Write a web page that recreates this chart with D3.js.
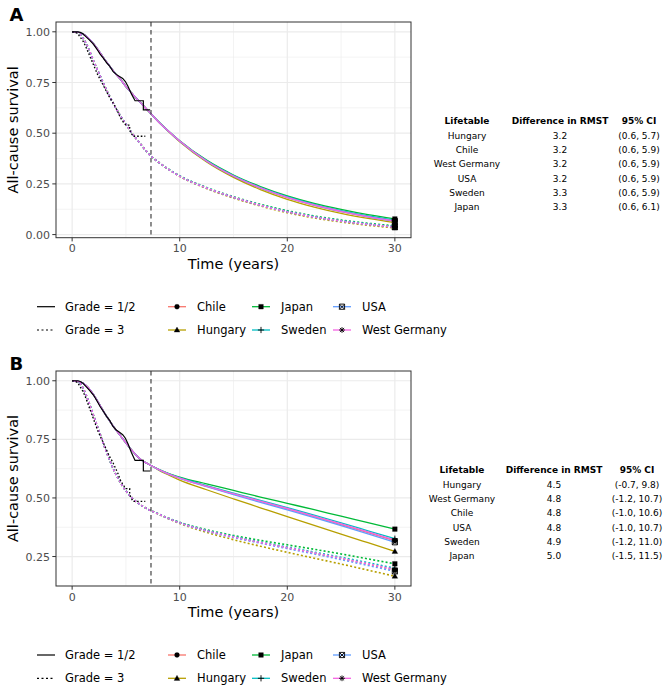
<!DOCTYPE html>
<html>
<head>
<meta charset="utf-8">
<script src="https://cdn.jsdelivr.net/npm/d3@7"></script>
<style>
  body { margin: 0; background: #fff; }
  text { font-family: "DejaVu Sans", sans-serif; }
</style>
</head>
<body>
<div id="chart"></div>
<script>
// ---- data ----
let countries = ["Chile", "Hungary", "Japan", "Sweden", "USA", "West Germany"];
let colors = ["#F8766D", "#B79F00", "#00BA38", "#00BFC4", "#619CFF", "#F564E3"];
let shapes = ["circle", "triangle", "square", "plus", "boxx", "asterisk"];

// Kaplan-Meier (observed) curves, same cohort in both panels
let kmTime12 = [0, 0.5, 0.75, 1.0, 1.3, 1.6, 2.0, 2.3, 2.6, 2.9, 3.2, 3.5, 3.8, 4.1, 4.4, 4.7, 4.95, 5.2, 5.5, 5.7, 5.85, 6.62, 6.62, 7.25];
let kmSurv12 = [1, 1, 0.997, 0.99, 0.975, 0.96, 0.938, 0.915, 0.89, 0.87, 0.848, 0.83, 0.805, 0.79, 0.78, 0.77, 0.755, 0.73, 0.695, 0.675, 0.66, 0.66, 0.615, 0.615];
let kmTime3 = [0, 0.4, 0.6, 0.8, 1.0, 1.2, 1.4, 1.6, 1.8, 2.0, 2.2, 2.4, 2.6, 2.8, 3.0, 3.25, 3.5, 3.75, 4.0, 4.25, 4.5, 4.75, 5.0, 5.35, 5.35, 5.5, 5.65, 6.8];
let kmSurv3 = [1, 0.995, 0.985, 0.97, 0.955, 0.935, 0.91, 0.885, 0.86, 0.835, 0.81, 0.785, 0.765, 0.745, 0.725, 0.70, 0.675, 0.655, 0.63, 0.605, 0.575, 0.555, 0.54, 0.54, 0.515, 0.50, 0.485, 0.485];

// extrapolated curves: shared early part, then one tail per lifetable
let earlyTimes = [0, 0.5, 1, 1.5, 2, 2.5, 3, 3.5, 4, 4.5, 5, 5.5, 6, 6.5, 7, 7.5];
let tailTimes = [8, 9, 10, 12.5, 15, 17.5, 20, 22.5, 25, 27.5, 30];

let earlyA12 = [1, 0.998, 0.99, 0.97, 0.94, 0.905, 0.865, 0.83, 0.795, 0.765, 0.73, 0.70, 0.67, 0.643, 0.614, 0.586];
let earlyA3 = [1, 0.997, 0.97, 0.92, 0.855, 0.795, 0.735, 0.68, 0.63, 0.585, 0.545, 0.505, 0.47, 0.437, 0.405, 0.379];
let tailA12 = [
  [0.558, 0.507, 0.460, 0.362, 0.287, 0.229, 0.182, 0.144, 0.113, 0.087, 0.065],
  [0.557, 0.506, 0.458, 0.358, 0.282, 0.222, 0.174, 0.136, 0.105, 0.080, 0.059],
  [0.559, 0.509, 0.463, 0.367, 0.294, 0.237, 0.191, 0.154, 0.124, 0.098, 0.077],
  [0.558, 0.508, 0.462, 0.365, 0.291, 0.233, 0.187, 0.149, 0.118, 0.092, 0.071],
  [0.558, 0.507, 0.460, 0.362, 0.288, 0.230, 0.183, 0.145, 0.114, 0.088, 0.066],
  [0.558, 0.508, 0.461, 0.363, 0.289, 0.231, 0.184, 0.146, 0.115, 0.089, 0.067]
];
let tailA3 = [
  [0.358, 0.320, 0.288, 0.229, 0.183, 0.144, 0.112, 0.086, 0.066, 0.049, 0.036],
  [0.358, 0.320, 0.287, 0.227, 0.180, 0.141, 0.108, 0.082, 0.062, 0.046, 0.033],
  [0.358, 0.321, 0.290, 0.232, 0.187, 0.149, 0.118, 0.092, 0.072, 0.056, 0.043],
  [0.358, 0.321, 0.289, 0.231, 0.185, 0.147, 0.115, 0.089, 0.069, 0.053, 0.040],
  [0.358, 0.320, 0.288, 0.229, 0.183, 0.144, 0.112, 0.086, 0.066, 0.050, 0.037],
  [0.358, 0.320, 0.288, 0.230, 0.184, 0.145, 0.113, 0.087, 0.067, 0.051, 0.038]
];

let earlyB12 = [1, 0.998, 0.99, 0.97, 0.94, 0.903, 0.863, 0.828, 0.795, 0.765, 0.735, 0.706, 0.68, 0.66, 0.647, 0.634];
let earlyB3 = [1, 0.997, 0.97, 0.915, 0.85, 0.785, 0.72, 0.66, 0.607, 0.565, 0.53, 0.503, 0.482, 0.466, 0.453, 0.442];
let tailB12 = [
  [0.622, 0.602, 0.585, 0.550, 0.517, 0.485, 0.453, 0.420, 0.386, 0.352, 0.317],
  [0.620, 0.597, 0.576, 0.535, 0.496, 0.458, 0.420, 0.383, 0.346, 0.309, 0.272],
  [0.623, 0.604, 0.589, 0.560, 0.532, 0.504, 0.477, 0.450, 0.422, 0.395, 0.367],
  [0.622, 0.603, 0.587, 0.553, 0.521, 0.490, 0.459, 0.427, 0.394, 0.360, 0.326],
  [0.622, 0.601, 0.584, 0.548, 0.514, 0.481, 0.449, 0.416, 0.382, 0.347, 0.311],
  [0.622, 0.602, 0.585, 0.550, 0.518, 0.486, 0.455, 0.422, 0.389, 0.355, 0.320]
];
let tailB3 = [
  [0.432, 0.412, 0.394, 0.360, 0.333, 0.309, 0.287, 0.264, 0.241, 0.217, 0.192],
  [0.431, 0.410, 0.391, 0.353, 0.322, 0.294, 0.268, 0.243, 0.218, 0.192, 0.166],
  [0.433, 0.413, 0.396, 0.364, 0.340, 0.319, 0.300, 0.281, 0.261, 0.240, 0.219],
  [0.432, 0.412, 0.395, 0.362, 0.336, 0.312, 0.291, 0.269, 0.247, 0.224, 0.200],
  [0.432, 0.411, 0.393, 0.358, 0.331, 0.307, 0.284, 0.261, 0.237, 0.212, 0.187],
  [0.432, 0.412, 0.394, 0.360, 0.334, 0.310, 0.288, 0.266, 0.243, 0.219, 0.195]
];

let cutoff = 7.33;
let xTicks = [0, 10, 20, 30];
let yTicksA = [0, 0.25, 0.5, 0.75, 1];
let yTicksB = [0.25, 0.5, 0.75, 1];

let tableHead = ["Lifetable", "Difference in RMST", "95% CI"];
let tabA_life = ["Hungary", "Chile", "West Germany", "USA", "Sweden", "Japan"];
let tabA_diff = ["3.2", "3.2", "3.2", "3.2", "3.3", "3.3"];
let tabA_ci = ["(0.6, 5.7)", "(0.6, 5.9)", "(0.6, 5.9)", "(0.6, 5.9)", "(0.6, 5.9)", "(0.6, 6.1)"];
let tabB_life = ["Hungary", "West Germany", "Chile", "USA", "Sweden", "Japan"];
let tabB_diff = ["4.5", "4.8", "4.8", "4.8", "4.9", "5.0"];
let tabB_ci = ["(-0.7, 9.8)", "(-1.2, 10.7)", "(-1.0, 10.6)", "(-1.0, 10.7)", "(-1.2, 11.0)", "(-1.5, 11.5)"];

let gradeLabels = ["Grade = 1/2", "Grade = 3"];

// ---- drawing ----
let svg = d3.select("#chart").append("svg").attr("width", 668).attr("height", 691);

let left = 56, right = 411;
let panels = [
  { tag: "A", top: 22, bottom: 237.7, early12: earlyA12, early3: earlyA3, tail12: tailA12, tail3: tailA3, yTicks: yTicksA,
    life: tabA_life, diff: tabA_diff, ci: tabA_ci, cols: [467, 560, 639] },
  { tag: "B", top: 371, bottom: 586, early12: earlyB12, early3: earlyB3, tail12: tailB12, tail3: tailB3, yTicks: yTicksB,
    life: tabB_life, diff: tabB_diff, ci: tabB_ci, cols: [462, 554, 637] }
];

function shapePath(type, s) {
  let p = d3.path();
  if (type == "circle") { p.arc(0, 0, s * 0.95, 0, 2 * Math.PI); }
  else if (type == "triangle") { p.moveTo(0, -s * 1.15); p.lineTo(s * 1.1, s * 0.8); p.lineTo(-s * 1.1, s * 0.8); p.closePath(); }
  else if (type == "square") { p.rect(-s * 0.9, -s * 0.9, s * 1.8, s * 1.8); }
  else if (type == "plus") { p.moveTo(-s * 1.2, 0); p.lineTo(s * 1.2, 0); p.moveTo(0, -s * 1.2); p.lineTo(0, s * 1.2); }
  else if (type == "boxx") { p.rect(-s, -s, 2 * s, 2 * s); p.moveTo(-s, -s); p.lineTo(s, s); p.moveTo(s, -s); p.lineTo(-s, s); }
  else if (type == "asterisk") {
    let a = s * 1.1, b = s * 0.8;
    p.moveTo(-a, 0); p.lineTo(a, 0); p.moveTo(0, -a); p.lineTo(0, a);
    p.moveTo(-b, -b); p.lineTo(b, b); p.moveTo(b, -b); p.lineTo(-b, b);
  }
  return p.toString();
}
function drawShape(g, type, cx, cy, s) {
  let filled = (type == "circle" || type == "triangle" || type == "square");
  g.append("path")
    .attr("d", shapePath(type, s))
    .attr("transform", "translate(" + cx + "," + cy + ")")
    .attr("fill", filled ? "#000" : "none")
    .attr("stroke", "#000")
    .attr("stroke-width", filled ? 0.3 : 0.9);
}

let x = d3.scaleLinear().domain([-1.5, 31.5]).range([left, right]);

panels.forEach((P) => {
  // series for this panel
  let series = [];
  countries.forEach((c, i) => {
    series.push({ c: i, grade: 0, pts: earlyTimes.map((t, k) => [t, P.early12[k]]).concat(tailTimes.map((t, k) => [t, P.tail12[i][k]])) });
    series.push({ c: i, grade: 1, pts: earlyTimes.map((t, k) => [t, P.early3[k]]).concat(tailTimes.map((t, k) => [t, P.tail3[i][k]])) });
  });
  let allVals = series.flatMap((s) => s.pts.map((d) => d[1]));
  let ymin = d3.min(allVals), ymax = 1;
  let pad = (ymax - ymin) * 0.05;
  let y = d3.scaleLinear().domain([ymin - pad, ymax + pad]).range([P.bottom, P.top]);

  let g = svg.append("g");

  // grid
  let minorX = [-5, 5, 15, 25].filter((v) => x(v) > left && x(v) < right);
  g.selectAll(".mx").data(minorX).enter().append("line")
    .attr("x1", (d) => x(d)).attr("x2", (d) => x(d)).attr("y1", P.top).attr("y2", P.bottom)
    .attr("stroke", "#ebebeb").attr("stroke-width", 0.6);
  let minorY = [0.125, 0.375, 0.625, 0.875].filter((v) => y(v) < P.bottom && y(v) > P.top);
  g.selectAll(".my").data(minorY).enter().append("line")
    .attr("x1", left).attr("x2", right).attr("y1", (d) => y(d)).attr("y2", (d) => y(d))
    .attr("stroke", "#ebebeb").attr("stroke-width", 0.6);
  g.selectAll(".gx").data(xTicks).enter().append("line")
    .attr("x1", (d) => x(d)).attr("x2", (d) => x(d)).attr("y1", P.top).attr("y2", P.bottom)
    .attr("stroke", "#ebebeb").attr("stroke-width", 1.2);
  g.selectAll(".gy").data(P.yTicks).enter().append("line")
    .attr("x1", left).attr("x2", right).attr("y1", (d) => y(d)).attr("y2", (d) => y(d))
    .attr("stroke", "#ebebeb").attr("stroke-width", 1.2);

  // colored curves
  let line = d3.line().x((d) => x(d[0])).y((d) => y(d[1])).curve(d3.curveMonotoneX);
  // dotted first, then solid, countries in order
  [1, 0].forEach((gr) => {
    series.filter((s) => s.grade == gr).forEach((s) => {
      g.append("path").attr("d", line(s.pts))
        .attr("fill", "none").attr("stroke", colors[s.c])
        .attr("stroke-width", gr == 0 ? 1.3 : 1.6)
        .attr("stroke-dasharray", gr == 0 ? null : "2,2.2");
    });
  });

  // KM curves
  let km = d3.line().x((d) => x(d[0])).y((d) => y(d[1]));
  g.append("path").attr("d", km(kmTime12.map((t, k) => [t, kmSurv12[k]])))
    .attr("fill", "none").attr("stroke", "#000").attr("stroke-width", 1.2);
  g.append("path").attr("d", km(kmTime3.map((t, k) => [t, kmSurv3[k]])))
    .attr("fill", "none").attr("stroke", "#000").attr("stroke-width", 1.3).attr("stroke-dasharray", "1.6,2");

  // cutoff line
  g.append("line").attr("x1", x(cutoff)).attr("x2", x(cutoff)).attr("y1", P.top).attr("y2", P.bottom)
    .attr("stroke", "#333").attr("stroke-width", 1.1).attr("stroke-dasharray", "4.5,3.5");

  // end markers
  series.forEach((s) => {
    let last = s.pts[s.pts.length - 1];
    drawShape(g, shapes[s.c], x(last[0]), y(last[1]), 2.6);
  });

  // border
  g.append("rect").attr("x", left).attr("y", P.top).attr("width", right - left).attr("height", P.bottom - P.top)
    .attr("fill", "none").attr("stroke", "#333").attr("stroke-width", 1);

  // axes
  g.selectAll(".xt").data(xTicks).enter().append("line")
    .attr("x1", (d) => x(d)).attr("x2", (d) => x(d)).attr("y1", P.bottom).attr("y2", P.bottom + 3.7)
    .attr("stroke", "#333").attr("stroke-width", 1);
  g.selectAll(".xl").data(xTicks).enter().append("text")
    .attr("x", (d) => x(d)).attr("y", P.bottom + 14.5)
    .attr("text-anchor", "middle").style("font-size", "11px").attr("fill", "#4d4d4d")
    .text((d) => d);
  g.selectAll(".yt").data(P.yTicks).enter().append("line")
    .attr("x1", left - 3.7).attr("x2", left).attr("y1", (d) => y(d)).attr("y2", (d) => y(d))
    .attr("stroke", "#333").attr("stroke-width", 1);
  g.selectAll(".yl").data(P.yTicks).enter().append("text")
    .attr("x", 50).attr("y", (d) => y(d) + 4)
    .attr("text-anchor", "end").style("font-size", "11px").attr("fill", "#4d4d4d")
    .text((d) => d3.format(".2f")(d));

  g.append("text").attr("x", (left + right) / 2).attr("y", P.bottom + 31)
    .attr("text-anchor", "middle").style("font-size", "14.5px").text("Time (years)");
  g.append("text").attr("transform", "translate(17.5," + ((P.top + P.bottom) / 2) + ") rotate(-90)")
    .attr("text-anchor", "middle").style("font-size", "14.5px").text("All-cause survival");

  g.append("text").attr("x", 9.5).attr("y", P.top - 1).style("font-size", "18px").style("font-weight", "bold").text(P.tag);

  // table
  let tg = g.append("g").style("font-size", "9px");
  tableHead.forEach((h, j) => {
    tg.append("text").attr("x", P.cols[j]).attr("y", P.top + 99).attr("dy", "0.35em")
      .attr("text-anchor", "middle").style("font-weight", "bold").text(h);
  });
  let cols = [P.life, P.diff, P.ci];
  cols.forEach((col, j) => {
    tg.selectAll(".c" + j).data(col).enter().append("text")
      .attr("x", P.cols[j]).attr("y", (d, i) => P.top + 113.6 + i * 14.3).attr("dy", "0.35em")
      .attr("text-anchor", "middle").text((d) => d);
  });

  // legend
  let r1 = P.bottom + 69, r2 = P.bottom + 92.3;
  let lg = g.append("g").style("font-size", "11.5px");
  [r1, r2].forEach((ry, k) => {
    lg.append("line").attr("x1", 37).attr("x2", 55).attr("y1", ry).attr("y2", ry)
      .attr("stroke", "#000").attr("stroke-width", 1.2).attr("stroke-dasharray", k == 0 ? null : "2,2.5");
    lg.append("text").attr("x", 65).attr("y", ry).attr("dy", "0.36em").text(gradeLabels[k]);
  });
  let keyX = [168, 252, 333];
  countries.forEach((c, i) => {
    let col = Math.floor(i / 2), row = i % 2;
    let ry = row == 0 ? r1 : r2;
    lg.append("line").attr("x1", keyX[col]).attr("x2", keyX[col] + 18).attr("y1", ry).attr("y2", ry)
      .attr("stroke", colors[i]).attr("stroke-width", 1.3);
    drawShape(lg, shapes[i], keyX[col] + 9, ry, 2.6);
    lg.append("text").attr("x", keyX[col] + 29).attr("y", ry).attr("dy", "0.36em").text(c);
  });
});
</script>
</body>
</html>
